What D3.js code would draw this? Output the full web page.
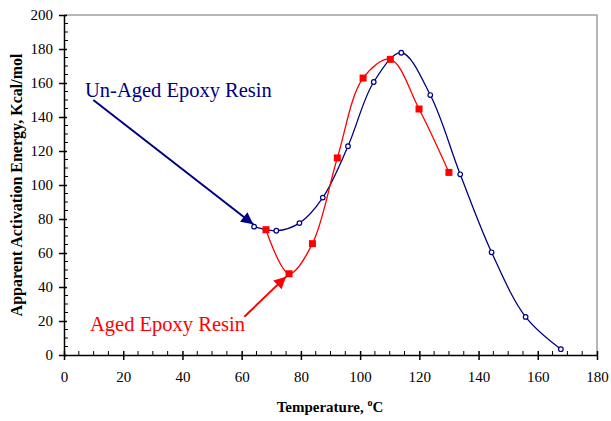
<!DOCTYPE html>
<html>
<head>
<meta charset="utf-8">
<script src="https://cdn.jsdelivr.net/npm/d3@7"></script>
<style>
  html, body { margin: 0; padding: 0; background: #fff; }
  svg { display: block; }
  svg text { font-family: "Liberation Serif", "Times New Roman", serif; }
</style>
</head>
<body>
<svg id="chart" width="611" height="421"></svg>
<script>
// Apparent activation energy vs. temperature
const unagedTemp   = [64.2, 71.7, 79.5, 87.4, 95.9, 104.6, 113.9, 123.7, 133.8, 144.4, 155.9, 167.8];
const unagedEnergy = [75.5, 73.1, 77.6, 92.6, 122.8, 160.6, 177.8, 152.9, 106.3, 60.4, 22.4, 3.4];

const agedTemp     = [68.2, 76.0, 83.9, 92.3, 101.0, 110.2, 119.9, 130.0];
const agedEnergy   = [73.7, 47.8, 65.5, 115.9, 162.9, 173.9, 144.7, 107.4];

const xTicks = [0, 20, 40, 60, 80, 100, 120, 140, 160, 180];
const yTicks = [0, 20, 40, 60, 80, 100, 120, 140, 160, 180, 200];

const seriesNames = ["Un-Aged Epoxy Resin", "Aged Epoxy Resin"];

const width = 611, height = 421;
const margin = { top: 15, right: 14, bottom: 66, left: 64 };

const svg = d3.select("#chart");
const x = d3.scaleLinear().domain([0, 180]).range([margin.left, width - margin.right]);
const y = d3.scaleLinear().domain([0, 200]).range([height - margin.bottom, margin.top]);

const blue = "#000080";
const red = "#ff0000";
const serif = '"Liberation Serif", "Times New Roman", serif';

// plot-area frame (top and right edges)
svg.append("path")
  .attr("d", `M${x(0)},${y(200)}H${x(180)}V${y(0)}`)
  .attr("fill", "none").attr("stroke", "#a0a0a0").attr("stroke-width", 1.5);

// minor ticks (inside)
const xMinor = d3.range(0, 181, 5).filter(v => v % 20 !== 0);
const yMinor = d3.range(0, 201, 5).filter(v => v % 20 !== 0);
svg.append("g").selectAll("line").data(xMinor).join("line")
  .attr("x1", d => x(d)).attr("x2", d => x(d))
  .attr("y1", y(0)).attr("y2", y(0) - 4)
  .attr("stroke", "#000").attr("stroke-width", 1);
svg.append("g").selectAll("line").data(yMinor).join("line")
  .attr("y1", d => y(d)).attr("y2", d => y(d))
  .attr("x1", x(0)).attr("x2", x(0) + 4)
  .attr("stroke", "#000").attr("stroke-width", 1);

// x axis
const xAxis = svg.append("g")
  .attr("transform", `translate(0,${y(0)})`)
  .call(d3.axisBottom(x).tickValues(xTicks).tickSize(5).tickSizeOuter(0).tickPadding(11));
xAxis.attr("font-family", null).attr("font-size", null);
xAxis.select(".domain").attr("stroke", "#000").attr("stroke-width", 1.5);
xAxis.selectAll(".tick line").attr("y1", -4).attr("stroke-width", 1.5);
xAxis.selectAll(".tick text").style("font-family", serif).style("font-size", "15px").attr("fill", "#000");

// y axis
const yAxis = svg.append("g")
  .attr("transform", `translate(${x(0)},0)`)
  .call(d3.axisLeft(y).tickValues(yTicks).tickSize(5).tickSizeOuter(0).tickPadding(6));
yAxis.attr("font-family", null).attr("font-size", null);
yAxis.select(".domain").attr("stroke", "#000").attr("stroke-width", 1.5);
yAxis.selectAll(".tick line").attr("x1", 3).attr("stroke-width", 1.5);
yAxis.selectAll(".tick text").style("font-family", serif).style("font-size", "15px").attr("fill", "#000");

// axis titles
const xTitle = svg.append("text")
  .attr("x", 330).attr("y", 412)
  .attr("text-anchor", "middle")
  .style("font-weight", "bold").style("font-size", "15px");
xTitle.append("tspan").text("Temperature, ");
xTitle.append("tspan").style("font-size", "10px").attr("dy", -6).text("o");
xTitle.append("tspan").attr("dy", 6).text("C");

svg.append("text")
  .attr("transform", `translate(22,185) rotate(-90)`)
  .attr("text-anchor", "middle")
  .style("font-weight", "bold").style("font-size", "16px")
  .text("Apparent Activation Energy, Kcal/mol");

// smoothed series lines
const line = d3.line().x(d => x(d[0])).y(d => y(d[1])).curve(d3.curveCatmullRom.alpha(0.5));
const unaged = unagedTemp.map((t, i) => [t, unagedEnergy[i]]);
const aged = agedTemp.map((t, i) => [t, agedEnergy[i]]);

svg.append("path").datum(unaged).attr("d", line)
  .attr("fill", "none").attr("stroke", blue).attr("stroke-width", 1.3);
svg.append("path").datum(aged).attr("d", line)
  .attr("fill", "none").attr("stroke", red).attr("stroke-width", 1.3);

// markers
svg.append("g").selectAll("circle").data(unaged).join("circle")
  .attr("cx", d => x(d[0])).attr("cy", d => y(d[1])).attr("r", 2.3)
  .attr("fill", "#fff").attr("stroke", blue).attr("stroke-width", 1.2);
svg.append("g").selectAll("rect").data(aged).join("rect")
  .attr("x", d => x(d[0]) - 3.5).attr("y", d => y(d[1]) - 3.5)
  .attr("width", 7).attr("height", 7).attr("fill", red);

// arrowheads
const defs = svg.append("defs");
[["arrowBlue", blue], ["arrowRed", red]].forEach(([id, c]) => {
  defs.append("marker").attr("id", id)
    .attr("viewBox", "0 0 10 10").attr("refX", 10).attr("refY", 5)
    .attr("markerUnits", "userSpaceOnUse")
    .attr("markerWidth", 16).attr("markerHeight", 12)
    .attr("orient", "auto")
    .append("path").attr("d", "M0,0L10,5L0,10Z").attr("fill", c);
});

// series annotations: label and arrow pointing to the curve
const labelPos = [[7.1, 152], [8.8, 14.3]];
const arrowFrom = [[9.9, 150], [60.9, 22.5]];
const arrowTo = [[63.9, 76.9], [75.0, 46.1]];
const labelColors = [blue, red];
const markerIds = ["arrowBlue", "arrowRed"];

seriesNames.forEach((name, i) => {
  svg.append("line")
    .attr("x1", x(arrowFrom[i][0])).attr("y1", y(arrowFrom[i][1]))
    .attr("x2", x(arrowTo[i][0])).attr("y2", y(arrowTo[i][1]))
    .attr("stroke", labelColors[i]).attr("stroke-width", 2)
    .attr("marker-end", `url(#${markerIds[i]})`);
  svg.append("text")
    .attr("x", x(labelPos[i][0])).attr("y", y(labelPos[i][1]))
    .style("font-size", "20.5px").attr("fill", labelColors[i])
    .text(name);
});
</script>
</body>
</html>
